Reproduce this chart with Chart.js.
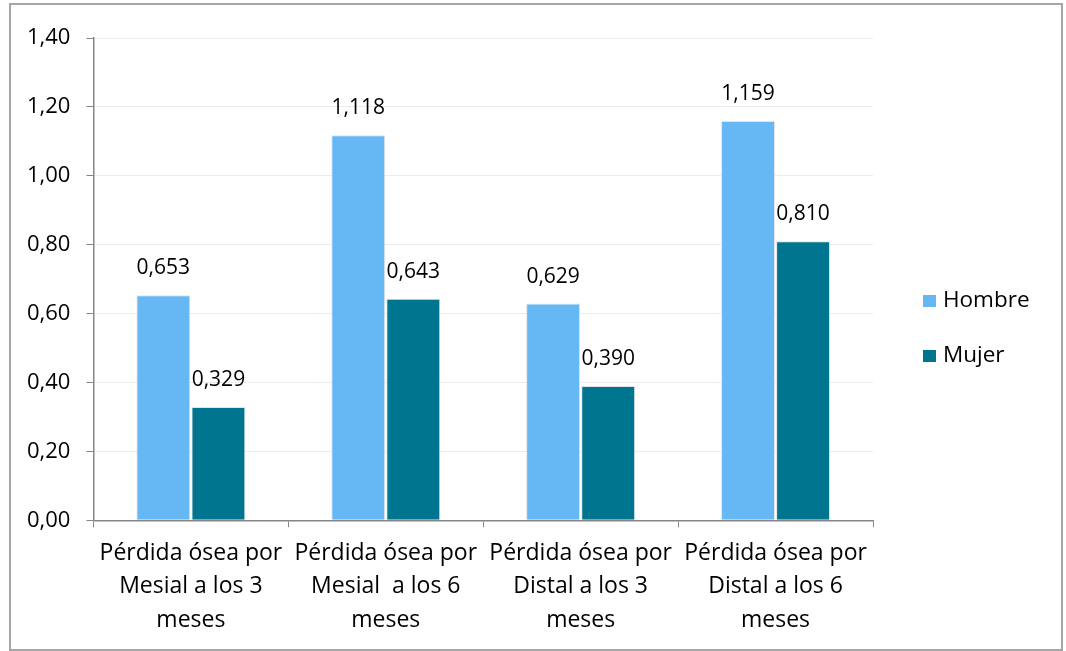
<!DOCTYPE html>
<html lang="es">
<head>
  <meta charset="UTF-8" />
  <title>Pérdida ósea</title>
  <style>
    body { margin: 0; background: #fff; }
    #frame {
      position: absolute;
      left: 9px;
      top: 3px;
      width: 1050px;
      height: 644px;
      border: 2px solid #a6a6a6;
    }
  </style>
</head>
<body>
  <div id="frame"><canvas id="chart" width="1050" height="644"></canvas></div>

  <script src="https://cdn.jsdelivr.net/npm/chart.js"></script>
  <script>
    const categories = [
      ['Pérdida ósea por', 'Mesial a los 3', 'meses'],
      ['Pérdida ósea por', 'Mesial  a los 6', 'meses'],
      ['Pérdida ósea por', 'Distal a los 3', 'meses'],
      ['Pérdida ósea por', 'Distal a los 6', 'meses']
    ];
    const hombre = [0.653, 1.118, 0.629, 1.159];
    const mujer = [0.329, 0.643, 0.390, 0.810];
    const yTicks = [0, 0.2, 0.4, 0.6, 0.8, 1.0, 1.2, 1.4];

    const FONT = "'Open Sans', sans-serif";
    const fmt = (v, d) => v.toFixed(d).replace('.', ',');

    // value labels above each bar
    const valueLabels = {
      id: 'valueLabels',
      afterDatasetsDraw(chart) {
        const ctx = chart.ctx;
        ctx.save();
        ctx.font = '21px ' + FONT;
        ctx.fillStyle = '#000';
        ctx.textAlign = 'center';
        ctx.textBaseline = 'middle';
        chart.data.datasets.forEach((ds, i) => {
          chart.getDatasetMeta(i).data.forEach((bar, j) => {
            ctx.fillText(fmt(ds.data[j], 3), bar.x, bar.y - 27);
          });
        });
        ctx.restore();
      }
    };

    // legend on the right, drawn by hand to match placement
    const sideLegend = {
      id: 'sideLegend',
      afterDraw(chart) {
        const ctx = chart.ctx;
        const area = chart.chartArea;
        ctx.save();
        ctx.font = '22.5px ' + FONT;
        ctx.textBaseline = 'middle';
        chart.data.datasets.forEach((ds, i) => {
          const y = 296 + i * 55;
          const x = area.right + 50;
          ctx.fillStyle = ds.backgroundColor;
          ctx.fillRect(x, y - 6, 13, 12);
          ctx.fillStyle = '#000';
          ctx.fillText(ds.label, x + 20, y);
        });
        ctx.restore();
      }
    };

    new Chart(document.getElementById('chart'), {
      type: 'bar',
      data: {
        labels: categories,
        datasets: [
          {
            label: 'Hombre',
            data: hombre,
            backgroundColor: '#66b8f4',
            borderColor: 'rgba(225,225,225,0.9)',
            borderWidth: 1,
            categoryPercentage: 0.565,
            barPercentage: 0.98
          },
          {
            label: 'Mujer',
            data: mujer,
            backgroundColor: '#00758f',
            borderColor: 'rgba(225,225,225,0.9)',
            borderWidth: 1,
            categoryPercentage: 0.565,
            barPercentage: 0.98
          }
        ]
      },
      options: {
        responsive: false,
        animation: false,
        layout: { padding: { top: 33, right: 188, left: 0, bottom: 3 } },
        plugins: {
          legend: { display: false },
          tooltip: { enabled: false }
        },
        scales: {
          x: {
            grid: {
              offset: true,
              drawOnChartArea: false,
              tickLength: 7,
              color: '#868686'
            },
            border: { color: '#868686', width: 1.5 },
            ticks: {
              color: '#000',
              font: { family: FONT, size: 23, lineHeight: 1.46 },
              padding: 9,
              maxRotation: 0
            }
          },
          y: {
            min: 0,
            max: 1.4,
            afterBuildTicks: scale => { scale.ticks = yTicks.map(v => ({ value: v })); },
            grid: {
              color: '#ececec',
              tickColor: '#868686',
              tickLength: 7
            },
            border: { color: '#868686', width: 1.5 },
            ticks: {
              color: '#000',
              font: { family: FONT, size: 22 },
              padding: 16,
              callback: v => fmt(v, 2)
            }
          }
        }
      },
      plugins: [valueLabels, sideLegend]
    });
  </script>
</body>
</html>
